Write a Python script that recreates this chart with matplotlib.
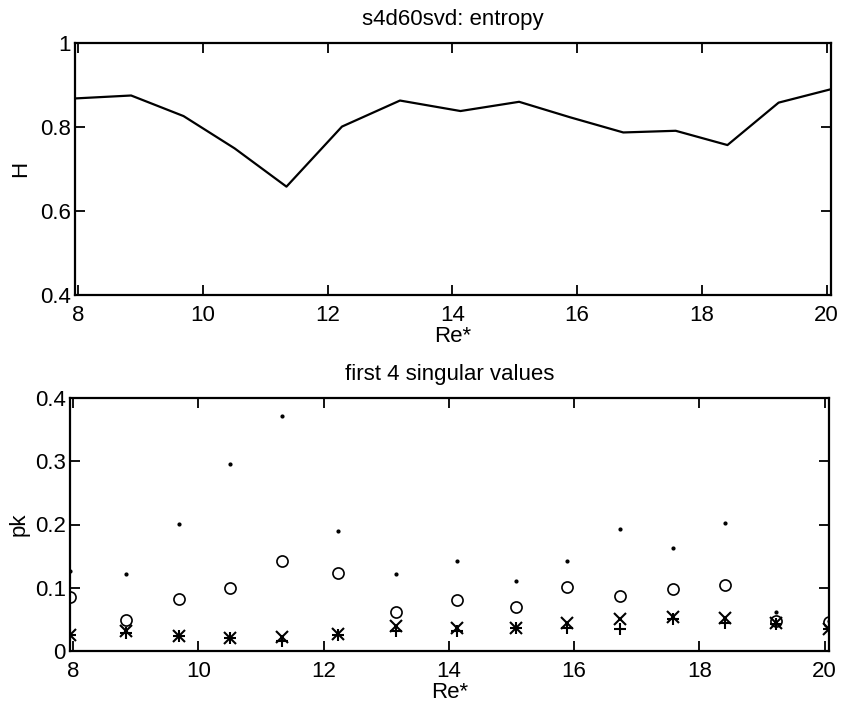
import numpy as np
import matplotlib
matplotlib.use('Agg')
import matplotlib.pyplot as plt

plt.rcParams['font.family'] = ['Liberation Sans', 'DejaVu Sans']
plt.rcParams['font.size'] = 16

# Re* values
re_star = [7.95, 8.85, 9.69, 10.51, 11.34, 12.23, 13.16, 14.13,
           15.07, 15.89, 16.74, 17.58, 18.41, 19.23, 20.07]

# entropy H
entropy = [0.868, 0.875, 0.826, 0.749, 0.658, 0.801, 0.863, 0.838,
           0.860, 0.823, 0.787, 0.791, 0.757, 0.858, 0.890]

# first 4 singular values (normalised)
pk1 = [0.127, 0.121, 0.201, 0.296, 0.372, 0.190, 0.121, 0.143,
       0.110, 0.142, 0.193, 0.163, 0.202, 0.061, 0.047]
pk2 = [0.086, 0.049, 0.083, 0.099, 0.143, 0.123, 0.062, 0.080,
       0.070, 0.101, 0.087, 0.098, 0.105, 0.048, 0.046]
pk3 = [0.025, 0.031, 0.024, 0.021, 0.022, 0.027, 0.040, 0.037,
       0.037, 0.044, 0.051, 0.053, 0.052, 0.045, 0.034]
pk4 = [0.025, 0.029, 0.024, 0.021, 0.016, 0.025, 0.032, 0.032,
       0.036, 0.036, 0.034, 0.051, 0.044, 0.042, 0.034]

fig = plt.figure(figsize=(8.43, 7.05), dpi=100)
ax1 = fig.add_axes([75 / 843, 1 - 295 / 705, 756 / 843, 252 / 705])
ax2 = fig.add_axes([70 / 843, 1 - 651 / 705, 759 / 843, 253 / 705])


def matlab_style(ax):
    for s in ax.spines.values():
        s.set_linewidth(1.6)
    ax.tick_params(direction='in', top=True, right=True, length=7,
                   width=1.3, labelsize=16)
    ax.tick_params(axis='x', pad=7)
    ax.tick_params(axis='y', pad=3)


# top panel: entropy
ax1.plot(re_star, entropy, color='black', linewidth=1.6)
ax1.set_xlim(re_star[0], re_star[-1])
ax1.set_ylim(0.4, 1.0)
ax1.set_xticks([8, 10, 12, 14, 16, 18, 20])
ax1.set_yticks([0.4, 0.6, 0.8, 1.0])
ax1.set_yticklabels(['0.4', '0.6', '0.8', '1'])
ax1.set_title('s4d60svd: entropy', fontsize=16, pad=13)
ax1.set_xlabel('Re*', labelpad=0)
ax1.set_ylabel('H', labelpad=6)
matlab_style(ax1)

# bottom panel: singular values
ax2.plot(re_star, pk1, linestyle='none', marker='.', markersize=4, color='black')
ax2.plot(re_star, pk2, linestyle='none', marker='o', markersize=8,
         markerfacecolor='none', markeredgecolor='black', markeredgewidth=1.2)
ax2.plot(re_star, pk3, linestyle='none', marker='x', markersize=8,
         color='black', markeredgewidth=1.5)
ax2.plot(re_star, pk4, linestyle='none', marker='+', markersize=9,
         color='black', markeredgewidth=1.5)
ax2.set_xlim(re_star[0], re_star[-1])
ax2.set_ylim(0, 0.4)
ax2.set_xticks([8, 10, 12, 14, 16, 18, 20])
ax2.set_yticks([0, 0.1, 0.2, 0.3, 0.4])
ax2.set_yticklabels(['0', '0.1', '0.2', '0.3', '0.4'])
ax2.set_title('first 4 singular values', fontsize=16, pad=13)
ax2.set_xlabel('Re*', labelpad=0)
ax2.set_ylabel('pk', labelpad=4)
matlab_style(ax2)

fig.savefig('out.png', dpi=100)
